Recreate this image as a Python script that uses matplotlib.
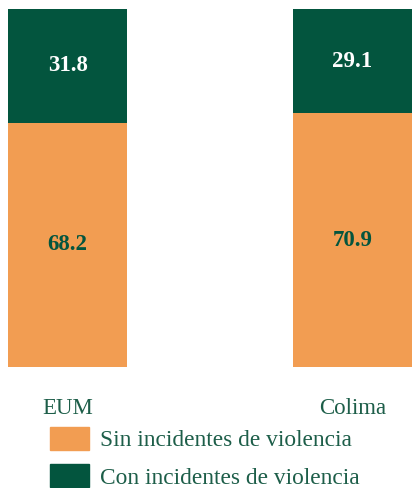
import matplotlib.pyplot as plt
from matplotlib.patches import Patch

# data
categories = ['EUM', 'Colima']
sin_violencia = [68.2, 70.9]
con_violencia = [31.8, 29.1]
legend_labels = ['Sin incidentes de violencia', 'Con incidentes de violencia']

orange = '#f29d52'
green = '#03553e'
txt = '#1d5e49'

plt.rcParams['font.family'] = ['Liberation Serif', 'DejaVu Serif']

fig = plt.figure(figsize=(4.12, 4.88), dpi=100)
ax = fig.add_axes([8/412, 1 - 367/488, 404/412, 358/488])

x = range(len(categories))
w = 0.42
ax.bar(x, sin_violencia, width=w, color=orange)
ax.bar(x, con_violencia, width=w, bottom=sin_violencia, color=green)

for i in x:
    ax.text(i, sin_violencia[i] / 2, f'{sin_violencia[i]:.1f}', ha='center', va='center',
            fontsize=16.5, fontweight='bold', color=green)
    ax.text(i, sin_violencia[i] + con_violencia[i] / 2, f'{con_violencia[i]:.1f}', ha='center',
            va='center', fontsize=16.5, fontweight='bold', color='white')

ax.set_xlim(-w/2, 1 + w/2)
ax.set_ylim(0, 100)
ax.set_xticks(list(x))
ax.set_xticklabels(categories, fontsize=16.5, color=txt)
ax.tick_params(axis='x', length=0, pad=22)
ax.set_yticks([])
for s in ax.spines.values():
    s.set_visible(False)

handles = [Patch(color=orange), Patch(color=green)]
leg = fig.legend(handles, legend_labels, loc='upper left', bbox_to_anchor=(50/412, 1 - 427/488),
                 frameon=False, fontsize=16.8, handlelength=1.65, handleheight=1.15,
                 handletextpad=0.5, labelspacing=0.55, borderpad=0, borderaxespad=0)
for t in leg.get_texts():
    t.set_color(txt)

fig.savefig('out.png', dpi=100)
